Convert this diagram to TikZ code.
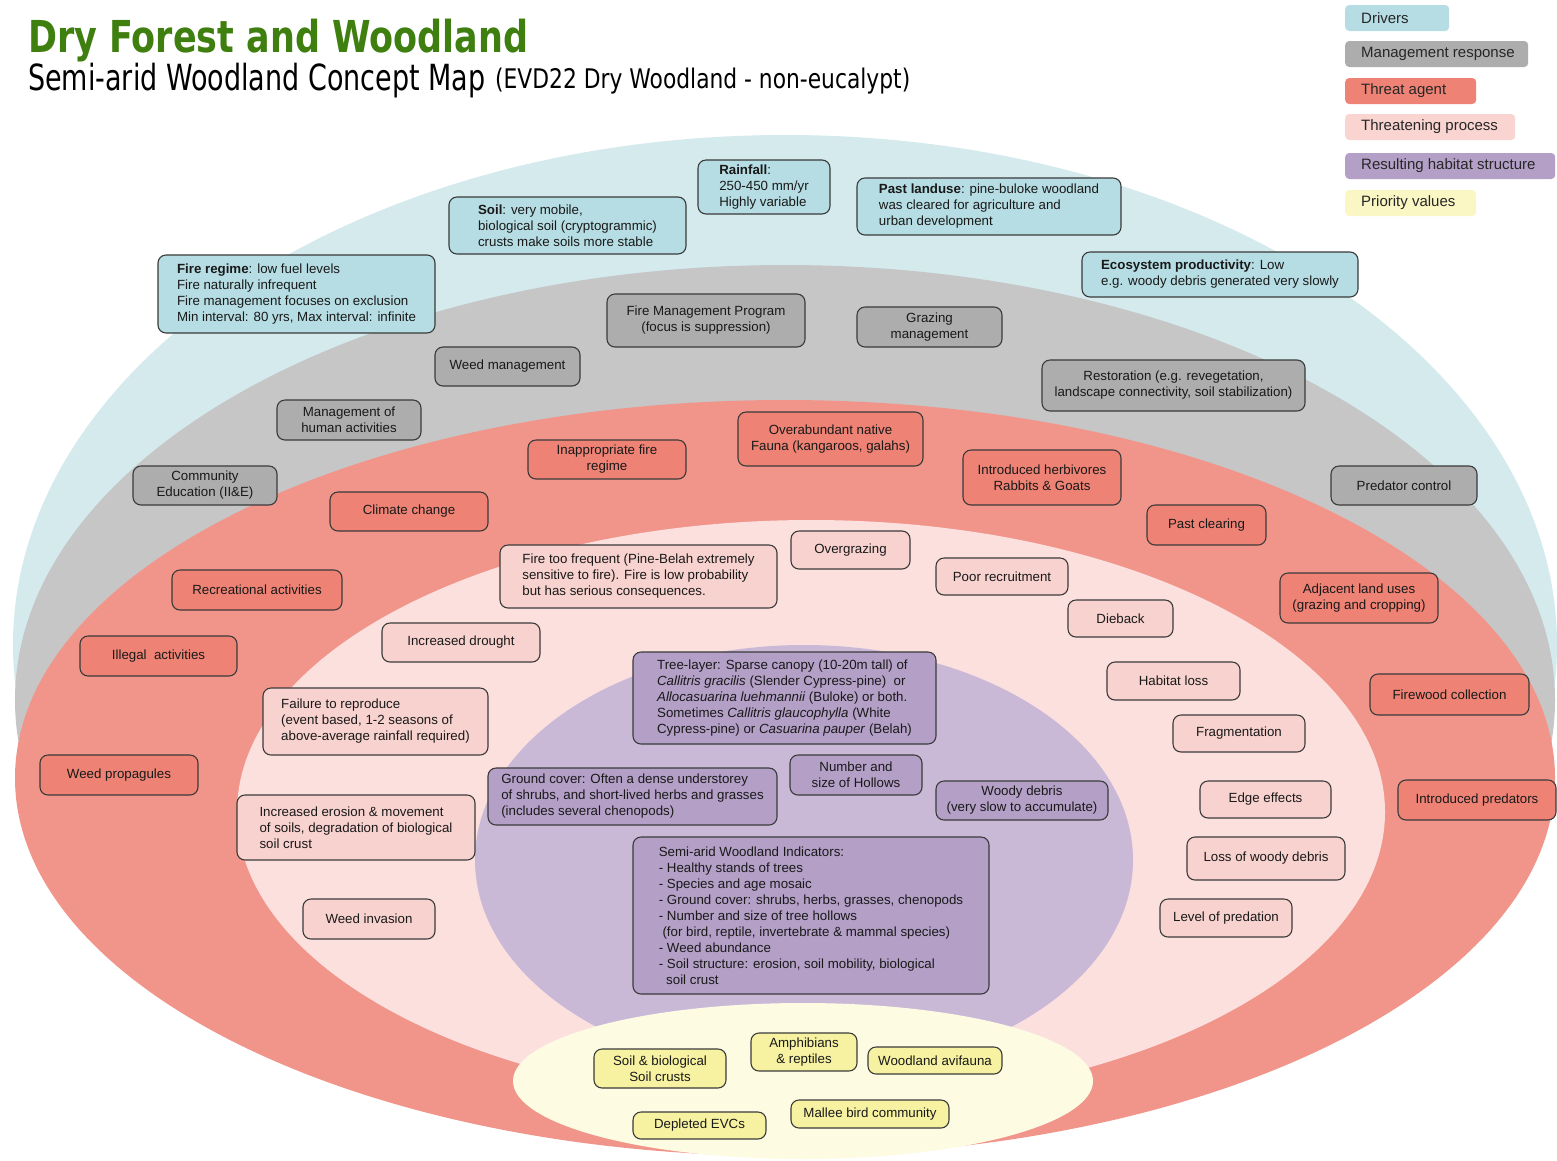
\documentclass[tikz,border=0pt]{standalone}
\usepackage{fontspec}
\usepackage{graphicx}
\setmainfont{Liberation Sans}
\newfontfamily\ttlfont{DejaVu Sans}

% band colours (ellipses) and box colours
\definecolor{drvE}{HTML}{D4EAED}
\definecolor{drvB}{HTML}{B6DDE3}
\definecolor{mgtE}{HTML}{C6C6C6}
\definecolor{mgtB}{HTML}{ADADAD}
\definecolor{thrE}{HTML}{F1958B}
\definecolor{thrB}{HTML}{EE8274}
\definecolor{prcE}{HTML}{FBE0DE}
\definecolor{prcB}{HTML}{F8D2CF}
\definecolor{habE}{HTML}{C9B9D7}
\definecolor{habB}{HTML}{B49FC7}
\definecolor{valE}{HTML}{FDFCE3}
\definecolor{valB}{HTML}{F6F2A2}
\definecolor{valL}{HTML}{FAF7C5}
\definecolor{prcL}{HTML}{F9D4D1}
\definecolor{boxline}{HTML}{3A3A3A}
\definecolor{ttlgreen}{HTML}{3F7F0F}

\tikzset{
  % a box given by its corners x1,y1,x2,y2
  area/.style n args={4}{at={({(#1+#3)/2},{(#2+#4)/2})},
    minimum width={(#3-#1)*1pt}, minimum height={(#4-#2)*1pt}},
  tb/.style={draw=boxline, line width=1.1pt, rounded corners=8pt, inner sep=0pt,
    font=\fontsize{13.3}{16}\selectfont, text=black!90},
  drv/.style={tb, fill=drvB, align=left},
  mgt/.style={tb, fill=mgtB, align=center},
  thr/.style={tb, fill=thrB, align=center},
  prc/.style={tb, fill=prcB, align=center},
  hab/.style={tb, fill=habB, align=center},
  val/.style={tb, fill=valB, align=center},
  leg/.style={rounded corners=4pt, inner xsep=16pt, inner ysep=0pt, anchor=west,
    minimum height=26pt, font=\fontsize{15}{18}\selectfont, text=black!85},
}

\begin{document}
\begin{tikzpicture}[x=1pt,y=-1pt]
\fill[white] (0,0) rectangle (1557,1160);
\useasboundingbox (0,0) rectangle (1557,1160);

% nested bands
\fill[drvE] (785,645) ellipse [x radius=772pt, y radius=510pt];
\fill[mgtE] (785,700) ellipse [x radius=770pt, y radius=435pt];
\fill[thrE] (785,778) ellipse [x radius=770pt, y radius=378pt];
\begin{scope}
  \clip (785,778) ellipse [x radius=770pt, y radius=378pt];
  \fill[prcE] (811,812) ellipse [x radius=574pt, y radius=292pt];
  \fill[habE] (804,860) ellipse [x radius=329pt, y radius=215pt];
\end{scope}
\fill[valE] (803,1081) ellipse [x radius=290pt, y radius=78pt];

% title
\node[anchor=base west, inner sep=0pt, text=ttlgreen] (title) at (28,52)
  {\resizebox{500pt}{\height}{\ttlfont\bfseries\fontsize{44}{44}\selectfont Dry Forest and Woodland}};
\node[anchor=base west, inner sep=0pt] (subtitle) at (28,90)
  {\resizebox{457pt}{\height}{\ttlfont\fontsize{36}{36}\selectfont Semi-arid Woodland Concept Map}};
\node[anchor=base west, inner sep=0pt] (subnote) at (495,88)
  {\resizebox{415pt}{\height}{\ttlfont\fontsize{27}{27}\selectfont (EVD22 Dry Woodland - non-eucalypt)}};

% legend
\node[leg, fill=drvB, minimum width=104pt] (lgdrv) at (1345,18) {\makebox[72pt][l]{Drivers}};
\node[leg, fill=mgtB, minimum width=183pt] (lgmgt) at (1345,54) {\makebox[151pt][l]{Management response}};
\node[leg, fill=thrB, minimum width=131pt] (lgthr) at (1345,91) {\makebox[99pt][l]{Threat agent}};
\node[leg, fill=prcL, minimum width=170pt] (lgprc) at (1345,127) {\makebox[138pt][l]{Threatening process}};
\node[leg, fill=habB, minimum width=210pt] (lghab) at (1345,166) {\makebox[178pt][l]{Resulting habitat structure}};
\node[leg, fill=valL, minimum width=131pt] (lgval) at (1345,203) {\makebox[99pt][l]{Priority values}};

% drivers
\node[drv, area={698}{160}{830}{214}] (rain) {\textbf{Rainfall}:\\250-450 mm/yr\\Highly variable};
\node[drv, area={449}{197}{686}{254}] (soil) {\textbf{Soil}: very mobile,\\biological soil (cryptogrammic)\\crusts make soils more stable};
\node[drv, area={857}{178}{1121}{235}] (landuse) {\textbf{Past landuse}: pine-buloke woodland\\was cleared for agriculture and\\urban development};
\node[drv, area={158}{255}{435}{333}] (fire) {\textbf{Fire regime}: low fuel levels\\Fire naturally infrequent\\Fire management focuses on exclusion\\Min interval: 80 yrs, Max interval: infinite};
\node[drv, area={1082}{252}{1358}{297}] (prod) {\textbf{Ecosystem productivity}: Low\\e.g. woody debris generated very slowly};

% management responses
\node[mgt, area={607}{294}{805}{347}] (fmp) {Fire Management Program\\(focus is suppression)};
\node[mgt, area={857}{307}{1002}{347}] (graze) {Grazing\\management};
\node[mgt, area={435}{347}{580}{386}] (weedm) {Weed management};
\node[mgt, area={1042}{360}{1305}{411}] (resto) {Restoration (e.g. revegetation,\\landscape connectivity, soil stabilization)};
\node[mgt, area={277}{400}{421}{440}] (human) {Management of\\human activities};
\node[mgt, area={133}{466}{277}{505}] (edu) {Community\\Education (II\&E)};
\node[mgt, area={1331}{466}{1477}{505}] (predc) {Predator control};

% threat agents
\node[thr, area={738}{412}{923}{466}] (fauna) {Overabundant native\\Fauna (kangaroos, galahs)};
\node[thr, area={528}{440}{686}{479}] (inapp) {Inappropriate fire\\regime};
\node[thr, area={963}{450}{1121}{505}] (herb) {Introduced herbivores\\Rabbits \& Goats};
\node[thr, area={330}{492}{488}{531}] (climate) {Climate change};
\node[thr, area={1147}{505}{1266}{545}] (clear) {Past clearing};
\node[thr, area={172}{570}{342}{610}] (recr) {Recreational activities};
\node[thr, area={1280}{573}{1438}{623}] (adj) {Adjacent land uses\\(grazing and cropping)};
\node[thr, area={80}{636}{237}{676}] (illegal) {Illegal\ \ activities};
\node[thr, area={1370}{674}{1529}{715}] (firewood) {Firewood collection};
\node[thr, area={40}{755}{198}{795}] (weedp) {Weed propagules};
\node[thr, area={1398}{780}{1556}{820}] (intpred) {Introduced predators};

% threatening processes
\node[prc, area={791}{531}{910}{569}] (overg) {Overgrazing};
\node[prc, area={500}{545}{777}{608}, align=left] (freq) {Fire too frequent (Pine-Belah extremely\\sensitive to fire). Fire is low probability\\but has serious consequences.};
\node[prc, area={936}{558}{1068}{595}] (recruit) {Poor recruitment};
\node[prc, area={1068}{600}{1173}{637}] (dieback) {Dieback};
\node[prc, area={382}{623}{540}{662}] (drought) {Increased drought};
\node[prc, area={1107}{662}{1240}{700}] (hloss) {Habitat loss};
\node[prc, area={263}{688}{488}{755}, align=left] (repro) {Failure to reproduce\\(event based, 1-2 seasons of\\above-average rainfall required)};
\node[prc, area={1173}{715}{1305}{752}] (frag) {Fragmentation};
\node[prc, area={1200}{781}{1331}{818}] (edge) {Edge effects};
\node[prc, area={237}{795}{475}{860}, align=left] (erosion) {Increased erosion \& movement\\of soils, degradation of biological\\soil crust};
\node[prc, area={1187}{837}{1345}{880}] (lossw) {Loss of woody debris};
\node[prc, area={1160}{899}{1292}{937}] (predn) {Level of predation};
\node[prc, area={303}{899}{435}{939}] (weedi) {Weed invasion};

% resulting habitat structure
\node[hab, area={633}{652}{936}{744}, align=left] (tree) {Tree-layer: Sparse canopy (10-20m tall) of\\\textit{Callitris gracilis} (Slender Cypress-pine)\ \ or\\\textit{Allocasuarina luehmannii} (Buloke) or both.\\Sometimes \textit{Callitris glaucophylla} (White\\Cypress-pine) or \textit{Casuarina pauper} (Belah)};
\node[hab, area={790}{755}{922}{795}] (hollow) {Number and\\size of Hollows};
\node[hab, area={488}{768}{777}{825}, align=left] (ground) {Ground cover: Often a dense understorey\\of shrubs, and short-lived herbs and grasses\\(includes several chenopods)};
\node[hab, area={936}{781}{1108}{820}] (woody) {Woody debris\\(very slow to accumulate)};
\node[hab, area={633}{837}{989}{994}, align=left] (indic) {Semi-arid Woodland Indicators:\\- Healthy stands of trees\\- Species and age mosaic\\- Ground cover: shrubs, herbs, grasses, chenopods\\- Number and size of tree hollows\\\ (for bird, reptile, invertebrate \& mammal species)\\- Weed abundance\\- Soil structure: erosion, soil mobility, biological\\\ \ soil crust};

% priority values
\node[val, area={594}{1049}{726}{1088}] (crust) {Soil \& biological\\Soil crusts};
\node[val, area={751}{1033}{857}{1071}] (amph) {Amphibians\\\& reptiles};
\node[val, area={868}{1047}{1002}{1074}] (avi) {Woodland avifauna};
\node[val, area={791}{1100}{949}{1128}] (mallee) {Mallee bird community};
\node[val, area={633}{1112}{766}{1139}] (evc) {Depleted EVCs};
\end{tikzpicture}
\end{document}
